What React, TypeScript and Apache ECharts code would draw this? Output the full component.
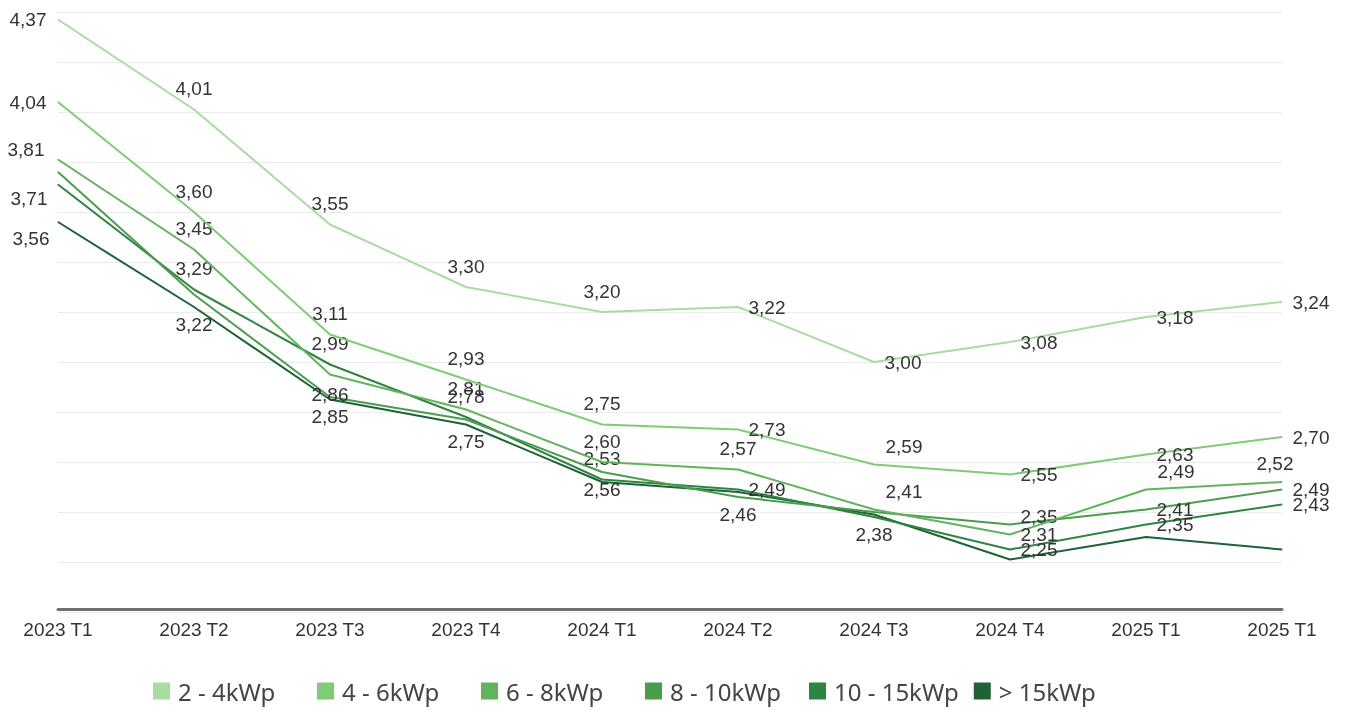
import React, { useEffect, useRef } from "react";
import * as echarts from "echarts";

const categories = ["2023 T1", "2023 T2", "2023 T3", "2023 T4", "2024 T1", "2024 T2", "2024 T3", "2024 T4", "2025 T1", "2025 T1"];

const seriesNames = ["2 - 4kWp", "4 - 6kWp", "6 - 8kWp", "8 - 10kWp", "10 - 15kWp", "> 15kWp"];

const s2to4 = [4.37, 4.01, 3.55, 3.30, 3.20, 3.22, 3.00, 3.08, 3.18, 3.24];
const s4to6 = [4.04, 3.60, 3.11, 2.93, 2.75, 2.73, 2.59, 2.55, 2.63, 2.70];
const s6to8 = [3.81, 3.45, 2.95, 2.81, 2.60, 2.57, 2.41, 2.31, 2.49, 2.52];
const s8to10 = [3.76, 3.27, 2.86, 2.77, 2.56, 2.46, 2.40, 2.35, 2.41, 2.49];
const s10to15 = [3.71, 3.29, 2.99, 2.78, 2.53, 2.49, 2.38, 2.25, 2.35, 2.43];
const s15plus = [3.56, 3.22, 2.85, 2.75, 2.52, 2.48, 2.39, 2.21, 2.30, 2.25];

// label placement codes per point ("-" = label hidden)
const lab2to4 = ["l", "t", "t", "t", "t", "r", "r", "r", "r", "r"];
const lab4to6 = ["l", "t", "t", "t", "t", "r", "tr", "r", "r", "r"];
const lab6to8 = ["lu", "t", "-", "t", "t", "t", "tr", "r", "tr", "tl"];
const lab8to10 = ["-", "-", "c", "-", "b", "b", "-", "ru", "r", "r"];
const lab10to15 = ["ld", "t", "t", "t", "t", "r", "b", "r", "r", "r"];
const lab15plus = ["ld2", "b", "b", "b", "-", "-", "-", "-", "-", "-"];

const colors = ["#a9dca1", "#80cb76", "#63b25c", "#4b9d4d", "#2e8542", "#1f6236"];

const OFF: Record<string, number[]> = {
  t: [0, -21],
  b: [0, 17],
  r: [29, 0],
  ru: [29, -8],
  tr: [30, -18],
  tl: [-7, -19],
  l: [-30, 0],
  lu: [-32, -10],
  ld: [-29, 14],
  ld2: [-27, 16],
  c: [0, -3],
};

const allValues = [s2to4, s4to6, s6to8, s8to10, s10to15, s15plus];
const allLabels = [lab2to4, lab4to6, lab6to8, lab8to10, lab10to15, lab15plus];

export default function App() {
  const ref = useRef<HTMLDivElement>(null);
  useEffect(() => {
    if (!ref.current) return;
    const chart = echarts.init(ref.current, null, { renderer: "svg" });
    const series = allValues.map((vals, si) => ({
      name: seriesNames[si],
      type: "line",
      data: vals.map((v, i) => {
        const code = allLabels[si][i];
        return {
          value: v,
          label: code === "-" ? { show: false } : { show: true, position: "inside", offset: OFF[code] },
        };
      }),
      symbol: "circle",
      symbolSize: 1,
      showSymbol: true,
      lineStyle: { width: 2, color: colors[si] },
      itemStyle: { color: colors[si] },
      label: {
        show: true,
        fontFamily: "Liberation Sans",
        fontSize: 19,
        color: "#333",
        formatter: (p: any) => Number(p.value).toFixed(2).replace(".", ","),
      },
      emphasis: { disabled: true },
      z: 10 - si,
    }));
    chart.setOption({
      animation: false,
      color: colors,
      grid: { left: 58, right: 68, top: 12, bottom: 98, containLabel: false },
      xAxis: {
        type: "category",
        data: categories,
        boundaryGap: false,
        offset: -3,
        axisLine: { show: true, lineStyle: { color: "#707070", width: 3 } },
        axisTick: { show: false },
        axisLabel: { fontFamily: "Liberation Sans", fontSize: 19, color: "#333", margin: 11 },
        splitLine: { show: false },
      },
      yAxis: {
        type: "value",
        min: 2.0,
        max: 4.4,
        interval: 0.2,
        axisLabel: { show: false },
        axisLine: { show: false },
        axisTick: { show: false },
        splitLine: { show: true, lineStyle: { color: "#ebebeb", width: 1 } },
      },
      legend: {
        left: 153,
        top: 677,
        padding: 0,
        icon: "rect",
        itemWidth: 17,
        itemHeight: 17,
        itemGap: 15,
        selectedMode: false,
        textStyle: {
          fontFamily: "Noto Sans",
          fontSize: 24,
          lineHeight: 28,
          color: "#444",
          width: 124,
          padding: [0, 0, 0, 3],
          backgroundColor: "rgba(0,0,0,0)",
        },
        data: seriesNames,
      },
      series,
    });
    return () => chart.dispose();
  }, []);
  return <div ref={ref} style={{ position: "fixed", left: 0, top: 0, width: 1350, height: 710 }} />;
}
